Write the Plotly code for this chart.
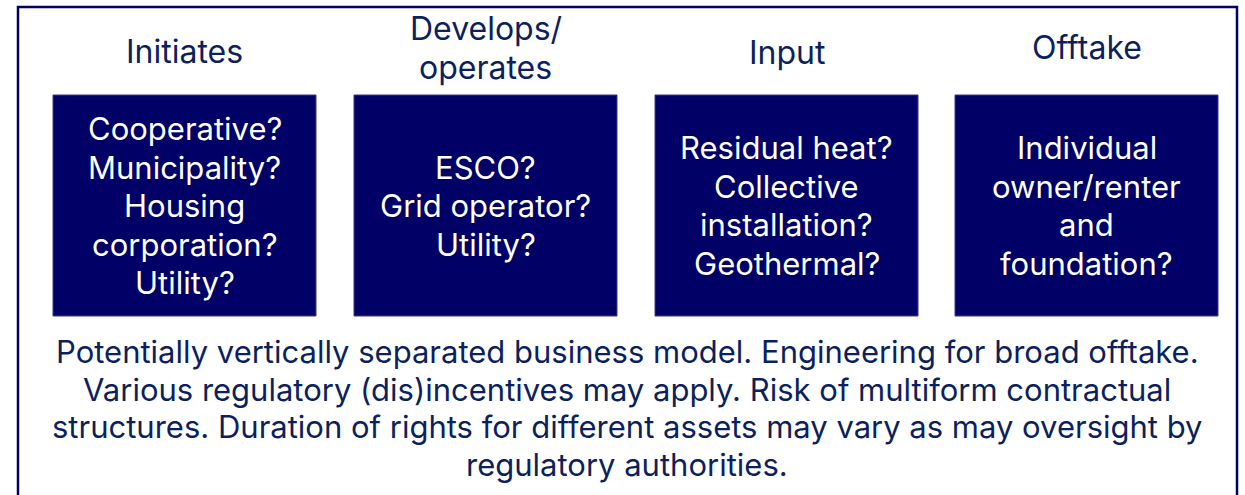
import plotly.graph_objects as go

# ---- data ----
roles = ["Initiates", "Develops/<br>operates", "Input", "Offtake"]
options = [
    ["Cooperative?", "Municipality?", "Housing", "corporation?", "Utility?"],
    ["ESCO?", "Grid operator?", "Utility?"],
    ["Residual heat?", "Collective", "installation?", "Geothermal?"],
    ["Individual", "owner/renter", "and", "foundation?"],
]
summary = [
    "Potentially vertically separated business model. Engineering for broad offtake.",
    "Various regulatory (dis)incentives may apply. Risk of multiform contractual",
    "structures. Duration of rights for different assets may vary as may oversight by",
    "regulatory authorities.",
]

# ---- layout / style ----
W, H = 1245, 495
NAVY = "#000066"
TEXT = "#0c1f5e"
FONT = "Inter"
FS_HEAD, FS_BOX, FS_SUM = 32, 31, 31
box_left = [53, 354, 655, 955]
box_w = 263
box_top, box_bot = 95, 316
header_y = [51, 47.5, 52, 47]
head_line_h = 39
line_h = 38.5
sum_center = 408
sum_line_h = 37.7

fig = go.Figure()
shapes = [dict(type="rect", x0=18, y0=7, x1=1237, y1=H + 10,
               line=dict(color=NAVY, width=2.5), fillcolor="rgba(0,0,0,0)")]
ann = []
for i, (role, opts) in enumerate(zip(roles, options)):
    x0 = box_left[i]
    cx = x0 + box_w / 2
    shapes.append(dict(type="rect", x0=x0, x1=x0 + box_w, y0=box_top, y1=box_bot,
                       line=dict(color="#3a3a88", width=1), fillcolor=NAVY))
    rl = role.split("<br>")
    for j, t in enumerate(rl):
        ann.append(dict(x=cx, y=header_y[i] + (j - (len(rl) - 1) / 2) * head_line_h,
                        text=t, showarrow=False,
                        font=dict(family=FONT, size=FS_HEAD, color=TEXT),
                        xanchor="center", yanchor="middle"))
    cy = (box_top + box_bot) / 2
    n = len(opts)
    for j, t in enumerate(opts):
        ann.append(dict(x=cx, y=cy + (j - (n - 1) / 2) * line_h, text=t, showarrow=False,
                        font=dict(family=FONT, size=FS_BOX, color="white"),
                        xanchor="center", yanchor="middle"))
n = len(summary)
for j, t in enumerate(summary):
    ann.append(dict(x=627, y=sum_center + (j - (n - 1) / 2) * sum_line_h, text=t,
                    showarrow=False, font=dict(family=FONT, size=FS_SUM, color=TEXT),
                    xanchor="center", yanchor="middle"))

fig.update_layout(
    width=W, height=H, margin=dict(l=0, r=0, t=0, b=0),
    paper_bgcolor="white", plot_bgcolor="white",
    xaxis=dict(range=[0, W], visible=False, fixedrange=True),
    yaxis=dict(range=[H, 0], visible=False, fixedrange=True),
    shapes=shapes, annotations=ann, showlegend=False,
)
fig.write_html("out.html", config={"displayModeBar": False},
               post_script="document.body.style.margin='0';document.body.style.overflow='hidden';")
